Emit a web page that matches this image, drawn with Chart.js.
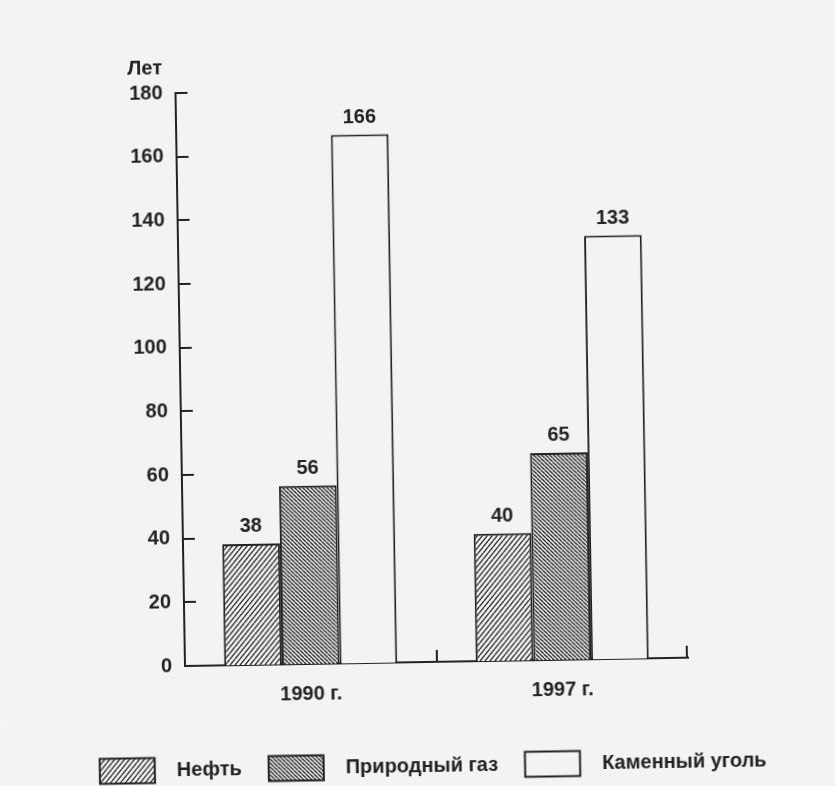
<!DOCTYPE html>
<html>
<head>
<meta charset="utf-8">
<script src="https://cdn.jsdelivr.net/npm/chart.js@4/dist/chart.umd.min.js"></script>
<style>
  html, body { margin: 0; padding: 0; background: #f3f3f3; overflow: hidden; }
  /* the scanned page is slightly tilted */
  #wrap { width: 835px; height: 786px; transform: rotate(-0.95deg); transform-origin: 185px 666px; }
</style>
</head>
<body>
<div id="wrap"><canvas id="myChart" width="835" height="786"></canvas></div>
<script>
const years = ['1990 г.', '1997 г.'];
const oil = [38, 40];
const gas = [56, 65];
const coal = [166, 133];
const seriesNames = ['Нефть', 'Природный газ', 'Каменный уголь'];
const unitLabel = 'Лет';

const PAPER = '#f3f3f3';
const INK = '#222';
const font = { family: "'Liberation Sans', Arial, sans-serif", size: 20, weight: 'bold' };
const fontCss = `bold ${font.size}px ${font.family}`;

function hatch(w, h, dir, lw) {
  const c = document.createElement('canvas');
  c.width = w; c.height = h;
  const g = c.getContext('2d');
  g.fillStyle = PAPER;
  g.fillRect(0, 0, w, h);
  g.strokeStyle = INK;
  g.lineWidth = lw;
  for (const k of [-1, 0, 1]) {
    g.beginPath();
    if (dir === '/') { g.moveTo(k * w, h); g.lineTo(k * w + w, 0); }
    else { g.moveTo(k * w, 0); g.lineTo(k * w + w, h); }
    g.stroke();
  }
  return g.createPattern(c, 'repeat');
}

const oilFill = hatch(5, 6, '/', 1.3);
const gasFill = hatch(4, 4, '\\', 1.3);

const paper = {
  id: 'paper',
  beforeDraw(chart) {
    const ctx = chart.ctx;
    ctx.save();
    ctx.fillStyle = PAPER;
    ctx.fillRect(0, 0, chart.width, chart.height);
    ctx.restore();
  }
};

const marks = {
  id: 'marks',
  afterDraw(chart) {
    const ctx = chart.ctx;
    const {left, right, bottom} = chart.chartArea;
    const x = chart.scales.x, y = chart.scales.y;
    ctx.save();
    ctx.strokeStyle = INK;
    ctx.lineWidth = 2;
    // inward ticks on the value axis
    y.ticks.forEach(t => {
      if (t.value === 0) return;
      const py = Math.round(y.getPixelForValue(t.value));
      ctx.beginPath();
      ctx.moveTo(left, py);
      ctx.lineTo(left + 12, py);
      ctx.stroke();
    });
    // separators between the years
    const sep = [(x.getPixelForValue(0) + x.getPixelForValue(1)) / 2, right - 1];
    sep.forEach(px => {
      ctx.beginPath();
      ctx.moveTo(Math.round(px), bottom);
      ctx.lineTo(Math.round(px), bottom - 12);
      ctx.stroke();
    });

    ctx.fillStyle = INK;
    ctx.font = fontCss;
    // unit
    ctx.textAlign = 'right';
    ctx.textBaseline = 'middle';
    ctx.fillText(unitLabel, left - 13, y.getPixelForValue(180) - 25);

    // values above bars
    ctx.textAlign = 'center';
    ctx.textBaseline = 'alphabetic';
    chart.data.datasets.forEach((ds, i) => {
      chart.getDatasetMeta(i).data.forEach((el, j) => {
        ctx.fillText(String(ds.data[j]), el.x, el.y - 12);
      });
    });

    // legend
    const boxW = 55, boxH = 25, gapIn = 22, gapOut = 27;
    const items = chart.data.datasets.map(ds => ({ ds, w: ctx.measureText(ds.label).width }));
    const total = items.reduce((s, it) => s + boxW + gapIn + it.w, 0) + gapOut * (items.length - 1);
    let lx = (left + right) / 2 - 5 - total / 2;
    const ly = bottom + 104;
    ctx.textAlign = 'left';
    ctx.textBaseline = 'middle';
    items.forEach(it => {
      ctx.fillStyle = it.ds.backgroundColor;
      ctx.fillRect(lx, ly - boxH / 2, boxW, boxH);
      ctx.strokeRect(lx, ly - boxH / 2, boxW, boxH);
      ctx.fillStyle = INK;
      ctx.fillText(it.ds.label, lx + boxW + gapIn, ly);
      lx += boxW + gapIn + it.w + gapOut;
    });
    ctx.restore();
  }
};

new Chart(document.getElementById('myChart').getContext('2d'), {
  type: 'bar',
  data: {
    labels: years,
    datasets: [
      { label: seriesNames[0], data: oil, backgroundColor: oilFill },
      { label: seriesNames[1], data: gas, backgroundColor: gasFill },
      { label: seriesNames[2], data: coal, backgroundColor: PAPER }
    ]
  },
  options: {
    responsive: false,
    animation: false,
    layout: { padding: { top: 93, right: 147, bottom: 70, left: 0 } },
    datasets: {
      bar: { categoryPercentage: 0.688, barPercentage: 1, borderColor: INK, borderWidth: 2 }
    },
    plugins: { legend: { display: false }, tooltip: { enabled: false } },
    scales: {
      x: {
        grid: { display: false, drawTicks: false },
        border: { color: INK, width: 2 },
        ticks: { color: INK, font, padding: 18 },
        afterFit: s => { s.height = 50; }
      },
      y: {
        min: 0,
        max: 180,
        ticks: { stepSize: 20, color: INK, font, padding: 13 },
        grid: { display: false, drawTicks: false },
        border: { color: INK, width: 2 },
        afterFit: s => { s.width = 185; }
      }
    }
  },
  plugins: [paper, marks]
});
</script>
</body>
</html>
